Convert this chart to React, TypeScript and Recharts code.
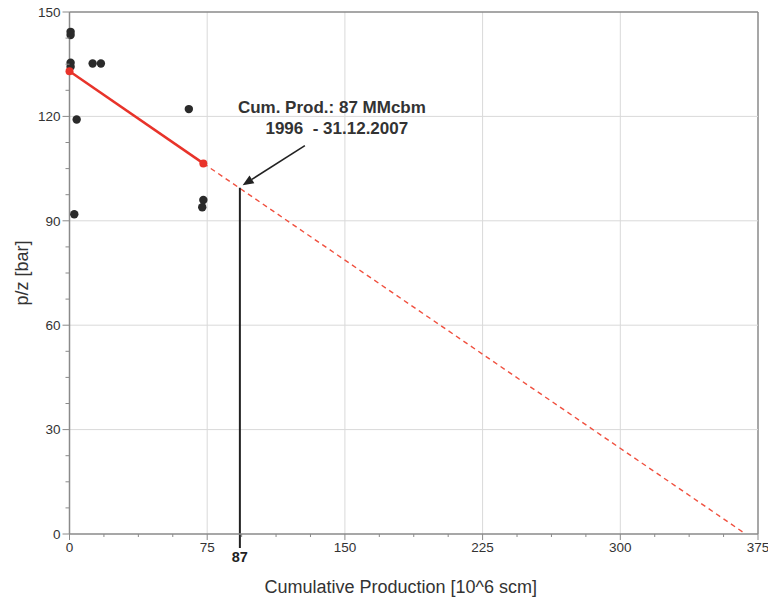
import {
  ComposedChart,
  Line,
  ReferenceDot,
  ReferenceLine,
  Scatter,
  XAxis,
  YAxis,
} from "recharts";

// measured p/z points
const measured = [
  { x: 0.6, y: 144.3 },
  { x: 0.6, y: 143.4 },
  { x: 0.6, y: 135.4 },
  { x: 0.6, y: 134.3 },
  { x: 12.6, y: 135.2 },
  { x: 17.1, y: 135.2 },
  { x: 3.9, y: 119.1 },
  { x: 2.6, y: 91.9 },
  { x: 65.0, y: 122.1 },
  { x: 72.9, y: 96.0 },
  { x: 72.3, y: 93.9 },
];

// fitted material balance line
const fitLine = [
  { x: 0, y: 133.0 },
  { x: 72.9, y: 106.5 },
];

// extrapolation to p/z = 0
const extrapolation = [
  { x: 72.9, y: 106.5 },
  { x: 368.3, y: 0 },
];

const xMajor = [0, 75, 150, 225, 300, 375];
const xTicks = [
  0, 18.75, 37.5, 56.25, 75, 93.75, 112.5, 131.25, 150, 168.75, 187.5, 206.25,
  225, 243.75, 262.5, 281.25, 300, 318.75, 337.5, 356.25, 375,
];
const yMajor = [0, 30, 60, 90, 120, 150];
const yTicks = [
  0, 7.5, 15, 22.5, 30, 37.5, 45, 52.5, 60, 67.5, 75, 82.5, 90, 97.5, 105,
  112.5, 120, 127.5, 135, 142.5, 150,
];

const cumProdX = 92.8;
const cumProdY = 99.5;
const cumProdLabel = "87";
const noteLine1 = "Cum. Prod.: 87 MMcbm";
const noteLine2 = "1996\u00a0 - 31.12.2007";

const FONT = '"Liberation Sans", Arial, Helvetica, sans-serif';
const TEXT = "#333";
const AXIS = "#8a8a8a";
const GRID = "#d9d9d9";

const XTick = (props: any) => {
  const { x, y, payload } = props;
  const major = xMajor.includes(payload.value);
  return (
    <g>
      <line x1={x} x2={x} y1={y - 8} y2={y - 8 + (major ? 6 : 3)} stroke={AXIS} strokeWidth={1} />
      {major && (
        <text x={x} y={y} dy="0.71em" textAnchor="middle" fill={TEXT} fontSize={13.5} fontFamily={FONT}>
          {payload.value}
        </text>
      )}
    </g>
  );
};

const YTick = (props: any) => {
  const { x, y, payload } = props;
  const major = yMajor.includes(payload.value);
  return (
    <g>
      <line x1={x + 8} x2={x + 8 - (major ? 7 : 4)} y1={y} y2={y} stroke={AXIS} strokeWidth={1} />
      {major && (
        <text x={x - 1} y={y} dy="0.355em" textAnchor="end" fill={TEXT} fontSize={13.5} fontFamily={FONT}>
          {payload.value}
        </text>
      )}
    </g>
  );
};

const YTitle = (props: any) => {
  const vb = props.viewBox;
  const cx = 22;
  const cy = vb.y + vb.height / 2;
  return (
    <text
      x={cx}
      y={cy}
      transform={`rotate(-90 ${cx} ${cy})`}
      textAnchor="middle"
      dominantBaseline="central"
      fill={TEXT}
      fontSize={18}
      fontFamily={FONT}
    >
      p/z [bar]
    </text>
  );
};

const Arrow = (props: any) => {
  const { x1, y1, x2, y2 } = props;
  const ang = Math.atan2(y2 - y1, x2 - x1);
  const len = 11;
  const half = 4.5;
  const bx = x2 - len * Math.cos(ang);
  const by = y2 - len * Math.sin(ang);
  const px = -Math.sin(ang) * half;
  const py = Math.cos(ang) * half;
  return (
    <g>
      <line x1={x1} y1={y1} x2={bx} y2={by} stroke="#222" strokeWidth={1.6} />
      <polygon points={`${x2},${y2} ${bx + px},${by + py} ${bx - px},${by - py}`} fill="#222" />
    </g>
  );
};

export default function App() {
  return (
    <div style={{ position: "absolute", left: 0, top: 0, background: "#fff" }}>
      <ComposedChart
        width={768}
        height={597}
        margin={{ top: 12, right: 10, bottom: 0, left: 0 }}
        style={{ fontFamily: FONT }}
      >
        {xMajor.slice(1).map((v) => (
          <ReferenceLine key={`gx${v}`} x={v} stroke={v === 375 ? AXIS : GRID} strokeWidth={v === 375 ? 1.5 : 1} />
        ))}
        {yMajor.slice(1).map((v) => (
          <ReferenceLine key={`gy${v}`} y={v} stroke={v === 150 ? AXIS : GRID} strokeWidth={v === 150 ? 1.5 : 1} />
        ))}
        <XAxis
          type="number"
          dataKey="x"
          domain={[0, 375]}
          ticks={xTicks}
          interval={0}
          height={63}
          stroke={AXIS}
          strokeWidth={1.5}
          tickLine={false}
          tick={<XTick />}
          label={{
            value: "Cumulative Production [10^6 scm]",
            position: "insideBottom",
            offset: 4,
            dx: -13,
            fill: TEXT,
            fontSize: 18,
            fontFamily: FONT,
          }}
        />
        <YAxis
          type="number"
          dataKey="y"
          domain={[0, 150]}
          ticks={yTicks}
          interval={0}
          width={69.5}
          stroke={AXIS}
          strokeWidth={1.5}
          tickLine={false}
          tick={<YTick />}
          label={{ content: (p: any) => <YTitle {...p} /> }}
        />
        <Line
          data={extrapolation}
          dataKey="y"
          stroke="#f0503f"
          strokeWidth={1.4}
          strokeDasharray="5 4"
          dot={false}
          activeDot={false}
          isAnimationActive={false}
        />
        <ReferenceLine
          segment={[
            { x: cumProdX, y: -4 },
            { x: cumProdX, y: cumProdY },
          ]}
          ifOverflow="visible"
          stroke="#222"
          strokeWidth={2}
          label={{
            value: cumProdLabel,
            position: "bottom",
            offset: 4,
            fill: "#222",
            fontSize: 14.5,
            fontWeight: 700,
            fontFamily: FONT,
          }}
        />
        <ReferenceLine
          segment={[
            { x: 128.2, y: 111.6 },
            { x: 94.3, y: 100.2 },
          ]}
          ifOverflow="visible"
          shape={<Arrow />}
        />
        <Scatter
          data={measured}
          dataKey="y"
          fill="#2a2a2a"
          shape={(p: any) => <circle cx={p.cx} cy={p.cy} r={4.2} fill="#2a2a2a" />}
          isAnimationActive={false}
        />
        <Line
          data={fitLine}
          dataKey="y"
          stroke="#e8332a"
          strokeWidth={2.5}
          dot={{ r: 4, fill: "#e8332a", stroke: "#e8332a", strokeWidth: 0 }}
          activeDot={false}
          isAnimationActive={false}
        />
        <ReferenceDot
          x={142.9}
          y={122.7}
          r={0}
          fill="none"
          stroke="none"
          ifOverflow="visible"
          label={{ value: noteLine1, position: "center", fill: TEXT, fontSize: 17, fontWeight: 700, fontFamily: FONT }}
        />
        <ReferenceDot
          x={145.6}
          y={116.7}
          r={0}
          fill="none"
          stroke="none"
          ifOverflow="visible"
          label={{ value: noteLine2, position: "center", fill: TEXT, fontSize: 17, fontWeight: 700, fontFamily: FONT }}
        />
      </ComposedChart>
    </div>
  );
}
